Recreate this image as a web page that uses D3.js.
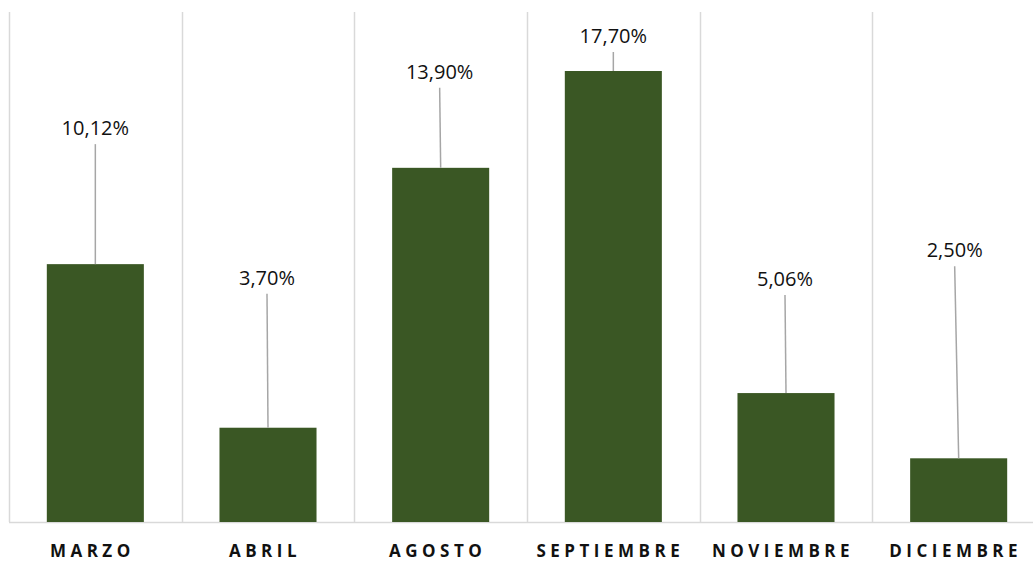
<!DOCTYPE html>
<html>
<head>
<meta charset="utf-8">
<script src="https://cdn.jsdelivr.net/npm/d3@7"></script>
<style>
  body { margin: 0; background: #fff; }
  svg { display: block; }
  .val { font-family: "Open Sans", "Noto Sans", sans-serif; font-size: 20px; fill: #111; }
  .cat { font-family: "Open Sans", "Noto Sans", sans-serif; font-size: 17px; font-weight: bold; fill: #111; letter-spacing: 4.5px; }
</style>
</head>
<body>
<svg id="chart" width="1033" height="561"></svg>
<script>
// data
var months = ["MARZO", "ABRIL", "AGOSTO", "SEPTIEMBRE", "NOVIEMBRE", "DICIEMBRE"];
var values = [10.12, 3.70, 13.90, 17.70, 5.06, 2.50];
var valueLabels = ["10,12%", "3,70%", "13,90%", "17,70%", "5,06%", "2,50%"];

// where the data labels were dragged to (px above bar top, px sideways)
var labelLift = [120, 134, 80, 19, 98, 192];
var labelShift = [0, -1, -1, 0, -1, -4];

var svg = d3.select("#chart"),
    margin = {top: 12, right: -12, bottom: 39, left: 9},
    width = 1033 - margin.left - margin.right,
    height = 561 - margin.top - margin.bottom;

var g = svg.append("g")
    .attr("transform", "translate(" + margin.left + "," + margin.top + ")");

var x = d3.scaleBand()
    .domain(months)
    .range([0, width])
    .paddingInner(0)
    .paddingOuter(0);

var y = d3.scaleLinear()
    .domain([0, 17.70 * 510 / 451])
    .range([height, 0]);

// vertical separators between categories
g.selectAll("line.sep")
    .data(months)
    .enter()
    .append("line")
    .attr("class", "sep")
    .attr("x1", function(d) { return Math.round(x(d)) + 0.5; })
    .attr("x2", function(d) { return Math.round(x(d)) + 0.5; })
    .attr("y1", 0)
    .attr("y2", height)
    .attr("stroke", "#d9d9d9")
    .attr("stroke-width", 1.5);

// baseline
g.append("line")
    .attr("x1", 0)
    .attr("x2", width)
    .attr("y1", height + 0.5)
    .attr("y2", height + 0.5)
    .attr("stroke", "#d9d9d9")
    .attr("stroke-width", 1.5);

var barW = x.bandwidth() * 0.562;

g.selectAll("rect.bar")
    .data(values)
    .enter()
    .append("rect")
    .attr("class", "bar")
    .attr("x", function(d, i) { return x(months[i]) + (x.bandwidth() - barW) / 2; })
    .attr("y", function(d) { return y(d); })
    .attr("width", barW)
    .attr("height", function(d) { return height - y(d); })
    .attr("fill", "#3a5724");

// leader lines
g.selectAll("line.leader")
    .data(values)
    .enter()
    .append("line")
    .attr("class", "leader")
    .attr("x1", function(d, i) { return x(months[i]) + x.bandwidth() / 2 + labelShift[i]; })
    .attr("y1", function(d, i) { return y(d) - labelLift[i]; })
    .attr("x2", function(d, i) { return x(months[i]) + x.bandwidth() / 2; })
    .attr("y2", function(d) { return y(d); })
    .attr("stroke", "#a6a6a6")
    .attr("stroke-width", 1.5);

// value labels
g.selectAll("text.val")
    .data(values)
    .enter()
    .append("text")
    .attr("class", "val")
    .attr("text-anchor", "middle")
    .attr("x", function(d, i) { return x(months[i]) + x.bandwidth() / 2 + labelShift[i]; })
    .attr("y", function(d, i) { return y(d) - labelLift[i] - 9; })
    .text(function(d, i) { return valueLabels[i]; });

// category labels
g.selectAll("text.cat")
    .data(months)
    .enter()
    .append("text")
    .attr("class", "cat")
    .attr("text-anchor", "middle")
    .attr("x", function(d) { return x(d) + x.bandwidth() / 2 - 3; })
    .attr("y", height + 35)
    .text(function(d) { return d; });
</script>
</body>
</html>
